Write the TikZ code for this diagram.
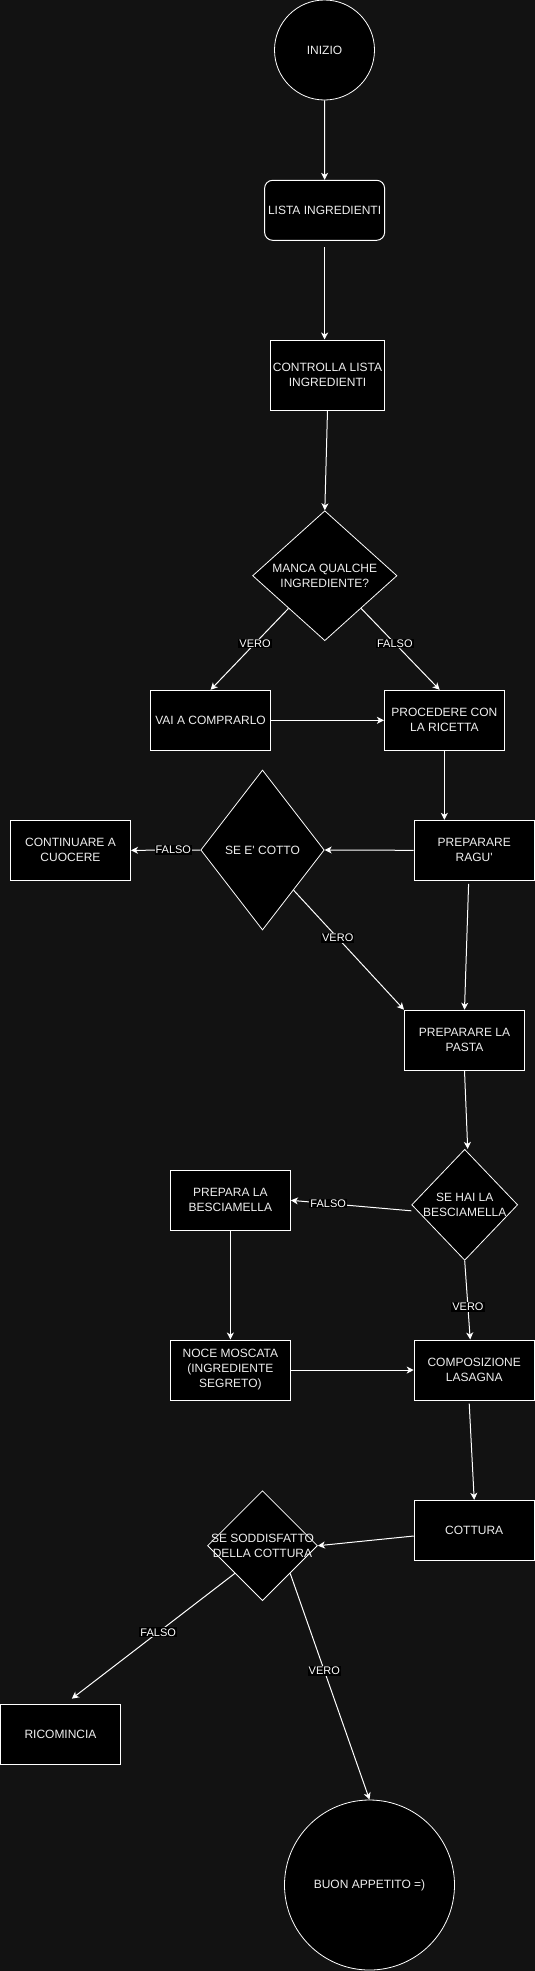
\documentclass[tikz,border=0pt]{standalone}
\usepackage{fontspec}
\setmainfont{Liberation Sans}
\usetikzlibrary{shapes.geometric,arrows.meta}
\definecolor{bgdark}{RGB}{18,18,18}
\definecolor{txtcol}{RGB}{238,238,238}
\tikzset{
  box/.style={draw=white,fill=black,line width=1pt,minimum width=120pt,minimum height=60pt,inner sep=0pt,text=txtcol,align=center,font=\fontsize{12}{15}\selectfont},
  rbox/.style={box,rounded corners=8pt},
  term/.style={circle,draw=white,fill=black,line width=0.8pt,inner sep=0pt,text=txtcol,font=\fontsize{12}{15}\selectfont},
  dec/.style={diamond,draw=white,fill=black,line width=0.8pt,inner sep=0pt},
  dectext/.style={text=txtcol,align=center,inner sep=0pt,font=\fontsize{12}{15}\selectfont},
  flow/.style={draw=white,line width=1pt,-{Stealth[length=7pt,width=7pt,inset=2pt]}},
  lbl/.style={fill=black,text=white,inner sep=1pt,font=\fontsize{11}{13}\selectfont},
}
\begin{document}
\begin{tikzpicture}[x=1pt,y=-1pt]
%\draw[step=50,gray,very thin] (0,0) grid (535,1971);
\fill[bgdark] (0,0) rectangle (535,1971);
\useasboundingbox (0,0) rectangle (535,1971);

\node[term,minimum size=100pt] (inizio) at (324.5,50) {INIZIO};
\node[rbox] (lista) at (324.6,210.3) {LISTA INGREDIENTI};
\node[box,minimum width=114pt,minimum height=70pt] (ctrl) at (327.5,375) {CONTROLLA LISTA\\INGREDIENTI};
\node[dec,minimum width=144.4pt,minimum height=130pt] (manca) at (324.8,575.7) {};
\node[dectext] (manca-t) at (manca) {MANCA QUALCHE\\INGREDIENTE?};
\node[box] (vai) at (210.6,720.3) {VAI A COMPRARLO};
\node[box] (proc) at (444.4,720.3) {PROCEDERE CON\\LA RICETTA};
\node[box] (ragu) at (474.2,850.3) {PREPARARE\\RAGU\textquotesingle};
\node[dec,minimum width=123.5pt,minimum height=160pt] (cotto) at (262.5,850) {};
\node[dectext] (cotto-t) at (cotto) {SE E\textquotesingle\ COTTO};
\node[box] (cont) at (70.5,850.3) {CONTINUARE A\\CUOCERE};
\node[box] (pasta) at (464.5,1040.2) {PREPARARE LA\\PASTA};
\node[dec,minimum width=106pt,minimum height=111pt] (besc) at (464.7,1204.8) {};
\node[dectext] (besc-t) at (besc) {SE HAI LA\\BESCIAMELLA};
\node[box] (prep) at (230.4,1200.3) {PREPARA LA\\BESCIAMELLA};
\node[box] (noce) at (230.4,1370) {NOCE MOSCATA\\(INGREDIENTE\\SEGRETO)};
\node[box] (comp) at (474.2,1370) {COMPOSIZIONE\\LASAGNA};
\node[box] (cott) at (474.2,1530.3) {COTTURA};
\node[dec,minimum width=110pt,minimum height=110pt] (sodd) at (262.5,1545.7) {};
\node[dectext] (sodd-t) at (sodd) {SE SODDISFATTO\\DELLA COTTURA};
\node[box] (ricom) at (60.5,1734.2) {RICOMINCIA};
\node[term,minimum size=170pt] (buon) at (369.5,1885) {BUON APPETITO =)};

\draw[flow] (inizio.south) -- (lista.north);
\draw[flow] ([yshift=-6.5pt]lista.south) -- (lista.south |- ctrl.north);
\draw[flow] (ctrl.south) -- (manca.north);
\draw[flow] (manca.south west) -- node[lbl,pos=0.43] (v1) {VERO} (vai.north);
\draw[flow] (manca.south east) -- node[lbl,pos=0.43] (f1) {FALSO} ([xshift=-4.8pt]proc.north);
\draw[flow] (vai) -- (proc);
\draw[flow] (proc.south) -- (proc.south |- ragu.north);
\draw[flow] (ragu.west) -- (cotto.east);
\draw[flow] (cotto.west) -- node[lbl,pos=0.39] (f2) {FALSO} (cont.east);
\draw[flow] (cotto.south east) -- node[lbl,pos=0.4] (v2) {VERO} (pasta.north west);
\draw[flow] ([xshift=-5.6pt,yshift=-3pt]ragu.south) -- (pasta.north);
\draw[flow] (pasta.south) -- ([xshift=3pt]besc.north);
\draw[flow] ([yshift=-6pt]besc.west) -- node[lbl,pos=0.69] (f3) {FALSO} (prep.east);
\draw[flow] (besc.south) -- node[lbl,pos=0.59] (v3) {VERO} ([xshift=-4pt]comp.north);
\draw[flow] (prep.south) -- (noce.north);
\draw[flow] (noce.east) -- (comp.west);
\draw[flow] ([xshift=-5pt,yshift=-3pt]comp.south) -- (cott.north);
\draw[flow] ([yshift=-5.7pt]cott.west) -- (sodd.east);
\draw[flow] (sodd.south west) -- node[lbl,pos=0.47] (f4) {FALSO} ([xshift=11.3pt,yshift=5pt]ricom.north);
\draw[flow] (sodd.south east) -- node[lbl,pos=0.43] (v4) {VERO} (buon.north);
\end{tikzpicture}
\end{document}
